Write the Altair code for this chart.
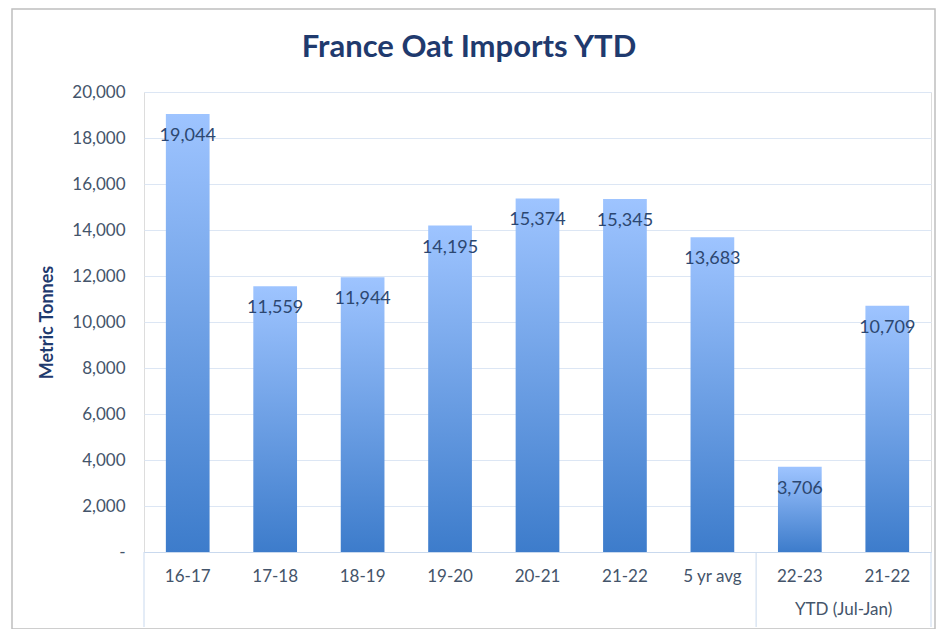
import altair as alt
import pandas as pd

keys = ["16-17", "17-18", "18-19", "19-20", "20-21", "21-22", "5 yr avg", "22-23|YTD", "21-22|YTD"]
values = [19044, 11559, 11944, 14195, 15374, 15345, 13683, 3706, 10709]
y_ticks = [0, 2000, 4000, 6000, 8000, 10000, 12000, 14000, 16000, 18000, 20000]
group_label = "YTD (Jul-Jan)"
title_text = "France Oat Imports YTD"

df = pd.DataFrame({"key": keys, "value": values})

FONT = "Lato"
NAVY = "#1F3A6E"
LABEL = "#44546A"

xscale = alt.Scale(paddingInner=0, paddingOuter=0)
xenc = alt.X(
    "key:N", sort=keys, scale=xscale, title=None,
    axis=alt.Axis(
        labelExpr="split(datum.value, '|')[0]", labelAngle=0, ticks=False,
        domainColor="#C9D9EE", labelColor=LABEL, labelFont=FONT, labelFontSize=17,
        labelPadding=16, labelBaseline="top",
    ),
)
yenc = alt.Y(
    "value:Q", scale=alt.Scale(domain=[0, 20000]), title="Metric Tonnes",
    axis=alt.Axis(
        values=y_ticks, labelExpr="datum.value == 0 ? '-' : format(datum.value, ',')",
        ticks=False, domain=False, gridColor="#DCE6F4", labelColor=LABEL,
        labelFont=FONT, labelFontSize=17, labelPadding=19,
        titleFont=FONT, titleFontSize=18, titleColor=NAVY, titleFontWeight="bold",
        titleX=-97, titleY=230, titleAngle=-90, titleBaseline="middle", titleAlign="center",
    ),
)

base = alt.Chart(df)

bars = base.mark_bar(
    width=alt.RelativeBandSize(0.5),
    color=alt.Gradient(
        gradient="linear",
        stops=[alt.GradientStop(color="#9EC4FF", offset=0),
               alt.GradientStop(color="#3D7CCB", offset=1)],
        x1=0, x2=0, y1=0, y2=1,
    ),
).encode(x=xenc, y=yenc)

labels = base.mark_text(
    dy=22, baseline="middle", font=FONT, fontSize=18, color="#2C4770"
).encode(x=alt.X("key:N", sort=keys), y="value:Q", text=alt.Text("value:Q", format=","))

sep_left = base.transform_filter(
    alt.FieldOneOfPredicate(field="key", oneOf=["16-17", "22-23|YTD"])
).mark_rule(color="#C9D9EE", strokeWidth=1).encode(
    x=alt.X("key:N", sort=keys, bandPosition=0), y=alt.value(460), y2=alt.value(535)
)
sep_right = base.transform_filter(
    alt.FieldEqualPredicate(field="key", equal="21-22|YTD")
).mark_rule(color="#C9D9EE", strokeWidth=1).encode(
    x=alt.X("key:N", sort=keys, bandPosition=1), y=alt.value(460), y2=alt.value(535)
)

group_txt = base.transform_filter(
    alt.FieldEqualPredicate(field="key", equal="21-22|YTD")
).mark_text(font=FONT, fontSize=17, color=LABEL, baseline="middle").encode(
    x=alt.X("key:N", sort=keys, bandPosition=0), y=alt.value(518), text=alt.value(group_label)
)

single = alt.Chart(alt.Data(values=[{}]))

border = single.mark_rect(
    fill=None, stroke="#BFBFBF", strokeWidth=1.5
).encode(x=alt.value(-132), x2=alt.value(791), y=alt.value(-83), y2=alt.value(537))

title = single.mark_text(
    font=FONT, fontSize=31, fontWeight="bold", color=NAVY, baseline="middle", align="center"
).encode(x=alt.value(325), y=alt.value(-44), text=alt.value(title_text))

chart = alt.layer(border, bars, labels, sep_left, sep_right, group_txt, title).properties(
    width=787, height=460,
    autosize=alt.AutoSizeParams(type="none"),
    padding={"left": 136, "top": 84, "right": 6, "bottom": 77},
).configure_view(stroke=None).configure(background="white")

chart.save("out.html", embed_options={"renderer": "svg", "actions": False})
